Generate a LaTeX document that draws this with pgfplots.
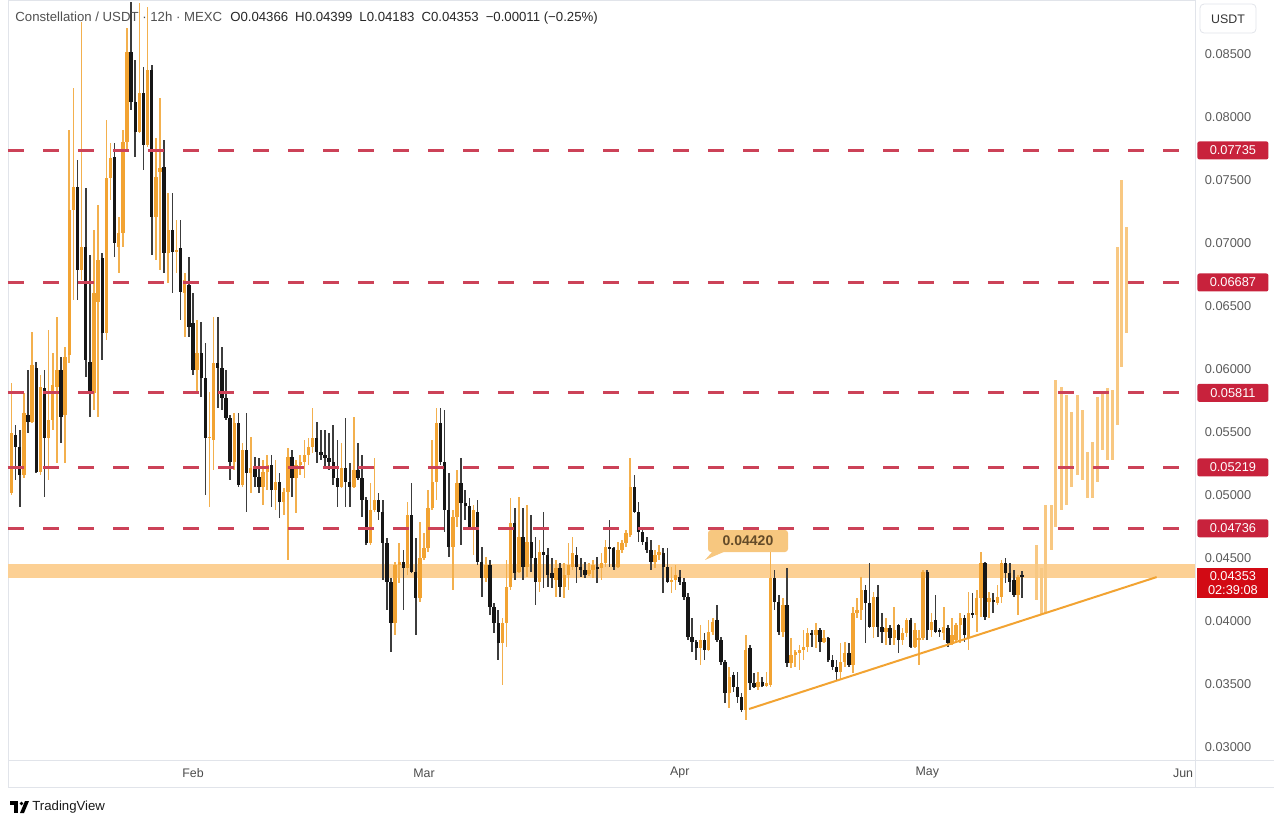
\documentclass[border=0pt]{standalone}
\usepackage{fontspec}
\setmainfont{Liberation Sans}
\usepackage{pgfplots}
\usepackage{pgfplotstable}
\pgfplotsset{compat=1.18}

\definecolor{upbody}{RGB}{242,163,50}
\definecolor{upwick}{RGB}{243,176,78}
\definecolor{dnbody}{RGB}{22,22,22}
\definecolor{dnwick}{RGB}{60,60,60}
\definecolor{lvl}{RGB}{204,66,88}
\definecolor{lvlbox}{RGB}{200,34,60}
\definecolor{nowbox}{RGB}{210,10,20}
\definecolor{band}{RGB}{252,208,148}
\definecolor{proj}{RGB}{248,200,130}
\definecolor{callout}{RGB}{247,199,127}
\definecolor{calltxt}{RGB}{100,75,40}
\definecolor{framegrey}{RGB}{225,228,234}
\definecolor{txtgrey}{RGB}{90,90,90}
\definecolor{hdrgrey}{RGB}{80,80,80}

% 12h candles: t = day of year, open high low close
\pgfplotstableread{
t o h l c
9.0 0.05016 0.05889 0.05000 0.05492
9.5 0.05476 0.05556 0.05119 0.05381
10.0 0.05381 0.05516 0.04905 0.05159
10.5 0.05159 0.05810 0.05135 0.05651
11.0 0.05635 0.05992 0.05492 0.05580
11.5 0.05580 0.06294 0.05572 0.06032
12.0 0.06008 0.06056 0.05175 0.05183
12.5 0.05183 0.05953 0.05159 0.05857
13.0 0.05849 0.05992 0.04984 0.05453
13.5 0.05453 0.06310 0.05119 0.05595
14.0 0.05595 0.06127 0.05516 0.05873
14.5 0.05857 0.06413 0.05254 0.05992
15.0 0.05992 0.06095 0.05413 0.05619
15.5 0.05635 0.06175 0.05254 0.06095
16.0 0.06111 0.07897 0.06048 0.07262
16.5 0.07262 0.08231 0.06548 0.07445
17.0 0.07445 0.07659 0.06548 0.06786
17.5 0.06786 0.08754 0.06707 0.06969
18.0 0.06969 0.07437 0.05937 0.06072
18.5 0.06056 0.06905 0.05619 0.05810
19.0 0.05810 0.07103 0.05675 0.06603
19.5 0.06532 0.07302 0.05619 0.06865
20.0 0.06881 0.06921 0.06072 0.06286
20.5 0.06286 0.07977 0.06230 0.07516
21.0 0.07516 0.07794 0.07341 0.07675
21.5 0.07683 0.07794 0.06889 0.07000
22.0 0.06969 0.07207 0.06762 0.07080
22.5 0.07080 0.07897 0.06969 0.07802
23.0 0.07802 0.08707 0.07738 0.08516
23.5 0.08516 0.08913 0.08056 0.08119
24.0 0.08119 0.08453 0.07683 0.07881
24.5 0.07881 0.08905 0.07870 0.08191
25.0 0.08191 0.08397 0.07580 0.07778
25.5 0.07778 0.08873 0.07762 0.08373
26.0 0.08373 0.08413 0.06905 0.07207
26.5 0.07207 0.07834 0.06865 0.07524
27.0 0.07564 0.08151 0.06786 0.07596
27.5 0.07604 0.07818 0.06762 0.06921
28.0 0.06921 0.07397 0.06683 0.07103
28.5 0.07103 0.07397 0.06603 0.06929
29.0 0.06929 0.07183 0.06762 0.06945
29.5 0.06961 0.07183 0.06389 0.06611
30.0 0.06603 0.06762 0.06254 0.06707
30.5 0.06667 0.06889 0.06254 0.06334
31.0 0.06365 0.06603 0.05953 0.05992
31.5 0.05992 0.06389 0.05810 0.06127
32.0 0.06127 0.06373 0.05778 0.05929
32.5 0.05929 0.06207 0.05000 0.05453
33.0 0.05453 0.05818 0.04905 0.05461
33.5 0.05437 0.06413 0.05199 0.06048
34.0 0.06048 0.06413 0.05691 0.06008
34.5 0.06008 0.06175 0.05675 0.05770
35.0 0.05770 0.05992 0.05595 0.05611
35.5 0.05611 0.05635 0.05119 0.05262
36.0 0.05262 0.05651 0.05199 0.05572
36.5 0.05572 0.05651 0.05064 0.05080
37.0 0.05080 0.05413 0.05064 0.05357
37.5 0.05357 0.05651 0.04865 0.05175
38.0 0.05175 0.05461 0.05016 0.05214
38.5 0.05214 0.05302 0.05064 0.05143
39.0 0.05143 0.05294 0.05016 0.05064
39.5 0.05064 0.05278 0.04921 0.05183
40.0 0.05183 0.05318 0.05040 0.05238
40.5 0.05238 0.05318 0.04905 0.05040
41.0 0.05040 0.05278 0.04881 0.05103
41.5 0.05103 0.05175 0.04818 0.04945
42.0 0.04945 0.05056 0.04841 0.05024
42.5 0.05024 0.05373 0.04484 0.05302
43.0 0.05302 0.05357 0.04984 0.05135
43.5 0.05135 0.05278 0.04857 0.05238
44.0 0.05238 0.05318 0.05159 0.05262
44.5 0.05262 0.05437 0.05135 0.05318
45.0 0.05318 0.05453 0.05238 0.05381
45.5 0.05381 0.05691 0.05333 0.05453
46.0 0.05453 0.05580 0.05254 0.05341
46.5 0.05341 0.05516 0.05278 0.05318
47.0 0.05318 0.05516 0.05222 0.05294
47.5 0.05294 0.05492 0.05199 0.05262
48.0 0.05262 0.05556 0.05080 0.05135
48.5 0.05135 0.05437 0.04905 0.05064
49.0 0.05064 0.05413 0.05056 0.05214
49.5 0.05214 0.05611 0.04905 0.05103
50.0 0.05103 0.05254 0.04905 0.05064
50.5 0.05064 0.05619 0.05056 0.05199
51.0 0.05199 0.05413 0.05119 0.05135
51.5 0.05135 0.05318 0.04826 0.04960
52.0 0.04960 0.04984 0.04603 0.04619
52.5 0.04619 0.05095 0.04603 0.04881
53.0 0.04881 0.05294 0.04865 0.04960
53.5 0.04960 0.05016 0.04802 0.04865
54.0 0.04865 0.04960 0.04325 0.04619
54.5 0.04619 0.04659 0.04087 0.04310
55.0 0.04310 0.04341 0.03754 0.03984
55.5 0.03984 0.04468 0.03889 0.04445
56.0 0.04445 0.04619 0.04302 0.04468
56.5 0.04468 0.04564 0.04087 0.04421
57.0 0.04421 0.04945 0.04365 0.04841
57.5 0.04841 0.05095 0.04381 0.04389
58.0 0.04389 0.04659 0.03889 0.04183
58.5 0.04183 0.04786 0.04151 0.04500
59.0 0.04500 0.04699 0.04484 0.04579
59.5 0.04579 0.05040 0.04548 0.04897
60.0 0.04897 0.05437 0.04881 0.05103
60.5 0.05103 0.05691 0.04960 0.05572
61.0 0.05572 0.05691 0.05238 0.05262
61.5 0.05262 0.05675 0.04707 0.04881
62.0 0.04881 0.05175 0.04508 0.04587
62.5 0.04587 0.04881 0.04246 0.04826
63.0 0.04826 0.05199 0.04746 0.05095
63.5 0.05095 0.05294 0.04603 0.04937
64.0 0.04937 0.05040 0.04802 0.04913
64.5 0.04913 0.04976 0.04722 0.04738
65.0 0.04738 0.04921 0.04524 0.04881
65.5 0.04865 0.04960 0.04445 0.04468
66.0 0.04468 0.04587 0.04191 0.04341
66.5 0.04341 0.04508 0.04310 0.04445
67.0 0.04445 0.04484 0.04048 0.04111
67.5 0.04111 0.04143 0.03905 0.03984
68.0 0.03984 0.04087 0.03691 0.03825
68.5 0.03825 0.04024 0.03492 0.03984
69.0 0.03984 0.04484 0.03794 0.04270
69.5 0.04270 0.04976 0.04246 0.04778
70.0 0.04778 0.04897 0.04325 0.04381
70.5 0.04389 0.04984 0.04381 0.04667
71.0 0.04667 0.04897 0.04325 0.04429
71.5 0.04429 0.04921 0.04349 0.04627
72.0 0.04627 0.04841 0.04389 0.04500
72.5 0.04500 0.04667 0.04127 0.04310
73.0 0.04310 0.04643 0.04230 0.04548
73.5 0.04548 0.04865 0.04262 0.04524
74.0 0.04524 0.04579 0.04270 0.04365
74.5 0.04381 0.04500 0.04262 0.04341
75.0 0.04325 0.04484 0.04191 0.04421
75.5 0.04421 0.04460 0.04191 0.04270
76.0 0.04270 0.04460 0.04183 0.04365
76.5 0.04365 0.04619 0.04246 0.04445
77.0 0.04429 0.04667 0.04405 0.04540
77.5 0.04524 0.04587 0.04302 0.04429
78.0 0.04429 0.04500 0.04349 0.04405
78.5 0.04405 0.04468 0.04341 0.04365
79.0 0.04373 0.04460 0.04357 0.04405
79.5 0.04405 0.04484 0.04341 0.04445
80.0 0.04429 0.04508 0.04302 0.04413
80.5 0.04421 0.04540 0.04325 0.04460
81.0 0.04460 0.04643 0.04429 0.04587
81.5 0.04587 0.04802 0.04429 0.04579
82.0 0.04579 0.04587 0.04405 0.04429
82.5 0.04429 0.04627 0.04421 0.04564
83.0 0.04564 0.04643 0.04540 0.04619
83.5 0.04619 0.04722 0.04587 0.04699
84.0 0.04683 0.05294 0.04667 0.05064
84.5 0.05064 0.05159 0.04857 0.04865
85.0 0.04865 0.04945 0.04627 0.04707
85.5 0.04707 0.04738 0.04603 0.04627
86.0 0.04627 0.04667 0.04540 0.04564
86.5 0.04564 0.04643 0.04405 0.04468
87.0 0.04468 0.04564 0.04421 0.04524
87.5 0.04524 0.04603 0.04484 0.04548
88.0 0.04540 0.04579 0.04222 0.04429
88.5 0.04429 0.04579 0.04302 0.04310
89.0 0.04310 0.04429 0.04222 0.04325
89.5 0.04325 0.04445 0.04246 0.04365
90.0 0.04349 0.04405 0.04286 0.04310
90.5 0.04310 0.04341 0.04167 0.04191
91.0 0.04191 0.04222 0.03849 0.03873
91.5 0.03873 0.04024 0.03754 0.03833
92.0 0.03833 0.03849 0.03691 0.03786
92.5 0.03786 0.03968 0.03651 0.03849
93.0 0.03849 0.03905 0.03691 0.03770
93.5 0.03770 0.04008 0.03762 0.03913
94.0 0.03913 0.04024 0.03889 0.03992
94.5 0.04008 0.04127 0.03833 0.03849
95.0 0.03849 0.03873 0.03651 0.03675
95.5 0.03675 0.03691 0.03349 0.03429
96.0 0.03429 0.03635 0.03310 0.03556
96.5 0.03572 0.03595 0.03437 0.03476
97.0 0.03476 0.03595 0.03349 0.03397
97.5 0.03397 0.03429 0.03278 0.03293
98.0 0.03293 0.03889 0.03214 0.03770
98.5 0.03786 0.03810 0.03453 0.03508
99.0 0.03508 0.03587 0.03468 0.03476
99.5 0.03476 0.03595 0.03453 0.03516
100.0 0.03516 0.03556 0.03476 0.03484
100.5 0.03484 0.03595 0.03476 0.03508
101.0 0.03492 0.04564 0.03476 0.04341
101.5 0.04341 0.04405 0.04087 0.04151
102.0 0.04151 0.04207 0.03889 0.03913
102.5 0.03913 0.04183 0.03873 0.04127
103.0 0.04127 0.04421 0.03635 0.03667
103.5 0.03667 0.03865 0.03627 0.03730
104.0 0.03730 0.03770 0.03635 0.03754
104.5 0.03750 0.03810 0.03611 0.03770
105.0 0.03770 0.03929 0.03691 0.03794
105.5 0.03794 0.03945 0.03754 0.03905
106.0 0.03905 0.03929 0.03794 0.03889
106.5 0.03889 0.03984 0.03786 0.03929
107.0 0.03929 0.03945 0.03754 0.03833
107.5 0.03833 0.03929 0.03825 0.03865
108.0 0.03865 0.03870 0.03675 0.03691
108.5 0.03691 0.03730 0.03611 0.03635
109.0 0.03635 0.03691 0.03532 0.03595
109.5 0.03595 0.03825 0.03532 0.03675
110.0 0.03675 0.03833 0.03635 0.03746
110.5 0.03746 0.03825 0.03635 0.03651
111.0 0.03651 0.04111 0.03587 0.04064
111.5 0.04064 0.04183 0.04024 0.04087
112.0 0.04087 0.04349 0.04008 0.04246
112.5 0.04246 0.04286 0.03825 0.04143
113.0 0.04143 0.04460 0.03945 0.03953
113.5 0.03953 0.04230 0.03865 0.04191
114.0 0.04191 0.04286 0.03873 0.03953
114.5 0.03953 0.04064 0.03825 0.03913
115.0 0.03913 0.04024 0.03810 0.03945
115.5 0.03945 0.03968 0.03810 0.03865
116.0 0.03865 0.04111 0.03810 0.03929
116.5 0.03968 0.03980 0.03746 0.03849
117.0 0.03849 0.03945 0.03810 0.03905
117.5 0.03905 0.04024 0.03873 0.04008
118.0 0.04008 0.04024 0.03786 0.03794
118.5 0.03794 0.03984 0.03786 0.03929
119.0 0.03849 0.03929 0.03651 0.03865
119.5 0.03865 0.04405 0.03849 0.04389
120.0 0.04389 0.04405 0.03849 0.03929
120.5 0.03929 0.04064 0.03873 0.03992
121.0 0.04008 0.04207 0.03905 0.03913
121.5 0.03929 0.03945 0.03873 0.03913
122.0 0.03905 0.04111 0.03849 0.03953
122.5 0.03945 0.03968 0.03794 0.03825
123.0 0.03825 0.04024 0.03810 0.03889
123.5 0.03849 0.03984 0.03833 0.03968
124.0 0.03968 0.04064 0.03825 0.04024
124.5 0.04024 0.04048 0.03833 0.03889
125.0 0.03865 0.04230 0.03770 0.04064
125.5 0.04064 0.04222 0.04024 0.04048
126.0 0.04048 0.04246 0.03913 0.04183
126.5 0.04183 0.04548 0.04032 0.04460
127.0 0.04460 0.04468 0.04008 0.04032
127.5 0.04151 0.04230 0.04024 0.04183
128.0 0.04167 0.04222 0.04064 0.04151
128.5 0.04143 0.04286 0.04127 0.04191
129.0 0.04191 0.04484 0.04143 0.04460
129.5 0.04460 0.04500 0.04302 0.04381
130.0 0.04381 0.04460 0.04230 0.04310
130.5 0.04325 0.04405 0.04191 0.04207
131.0 0.04207 0.04365 0.04048 0.04349
131.5 0.04366 0.04399 0.04183 0.04353
}\candles

% projected path (high/low ranges)
\pgfplotstableread{
t h l
133.2 0.04603 0.04167
133.8 0.04421 0.04048
134.3 0.04921 0.04064
135.0 0.04921 0.04564
135.6 0.05913 0.04746
136.3 0.05857 0.04881
136.9 0.05794 0.04921
137.5 0.05659 0.05064
138.2 0.05794 0.05159
138.8 0.05675 0.05119
139.4 0.05341 0.04976
140.0 0.05421 0.04976
140.6 0.05778 0.05103
141.2 0.05818 0.05357
141.8 0.05849 0.05278
142.4 0.05834 0.05278
143.0 0.06969 0.05556
143.6 0.07500 0.06016
144.2 0.07127 0.06286
}\proj

\begin{document}
\begin{tikzpicture}
\useasboundingbox (0,0) rectangle (637pt,-409.5pt);
\begin{axis}[
  at={(4pt,0pt)}, anchor=north west,
  scale only axis, width=593.5pt, height=380pt,
  xmin=8.576, xmax=152.45, ymin=0.02897, ymax=0.08929,
  clip=false,
  axis line style={draw=framegrey},
  major tick length=0pt,
  scaled y ticks=false,
  ytick={0.03,0.035,0.04,0.045,0.05,0.055,0.06,0.065,0.07,0.075,0.08,0.085},
  yticklabel pos=right,
  yticklabel style={anchor=center, xshift=16.5pt, text=txtgrey,
    font=\fontsize{6.4}{7}\selectfont,
    /pgf/number format/.cd, fixed, fixed zerofill, precision=5, assume math mode=true},
  xtick={31,59,90,120,151},
  xticklabels={Feb,Mar,Apr,May,Jun},
  xticklabel style={anchor=center, yshift=-6.5pt, text=black!70,
    font=\fontsize{6.2}{7}\selectfont},
  candle/.style={draw=none, mark=none, forget plot,
    error bars/y dir=both, error bars/y explicit, error bars/error mark=none},
]
% support band
\addplot[draw=none, fill=band, forget plot] coordinates
  {(8.576,0.04341) (152.45,0.04341) (152.45,0.04452) (8.576,0.04452)} -- cycle;

% up candles
\addplot[candle, restrict expr to domain={(\thisrow{c}-\thisrow{o})*100000}{0:100000},
  error bars/error bar style={draw=upwick, line width=0.8pt}]
  table[x=t, y expr={(\thisrow{h}+\thisrow{l})/2}, y error expr={(\thisrow{h}-\thisrow{l})/2}] {\candles};
\addplot[candle, restrict expr to domain={(\thisrow{c}-\thisrow{o})*100000}{0:100000},
  error bars/error bar style={draw=upbody, line width=1.7pt}]
  table[x=t, y expr={(\thisrow{o}+\thisrow{c})/2}, y error expr={max(abs(\thisrow{c}-\thisrow{o})/2,0.00004)}] {\candles};

% down candles
\addplot[candle, restrict expr to domain={(\thisrow{c}-\thisrow{o})*100000}{-100000:-0.5},
  error bars/error bar style={draw=dnwick, line width=0.8pt}]
  table[x=t, y expr={(\thisrow{h}+\thisrow{l})/2}, y error expr={(\thisrow{h}-\thisrow{l})/2}] {\candles};
\addplot[candle, restrict expr to domain={(\thisrow{c}-\thisrow{o})*100000}{-100000:-0.5},
  error bars/error bar style={draw=dnbody, line width=1.7pt}]
  table[x=t, y expr={(\thisrow{o}+\thisrow{c})/2}, y error expr={max(abs(\thisrow{c}-\thisrow{o})/2,0.00004)}] {\candles};

% projected path
\addplot[candle, error bars/error bar style={draw=proj, line width=1.5pt}]
  table[x=t, y expr={(\thisrow{h}+\thisrow{l})/2}, y error expr={(\thisrow{h}-\thisrow{l})/2}] {\proj};

% resistance levels
\addplot[lvl, line width=1.5pt, dash pattern=on 8pt off 9.5pt, forget plot] coordinates {(8.576,0.07735) (152.45,0.07735)};
\addplot[lvl, line width=1.5pt, dash pattern=on 8pt off 9.5pt, forget plot] coordinates {(8.576,0.06687) (152.45,0.06687)};
\addplot[lvl, line width=1.5pt, dash pattern=on 8pt off 9.5pt, forget plot] coordinates {(8.576,0.05811) (152.45,0.05811)};
\addplot[lvl, line width=1.5pt, dash pattern=on 8pt off 9.5pt, forget plot] coordinates {(8.576,0.05219) (152.45,0.05219)};
\addplot[lvl, line width=1.5pt, dash pattern=on 8pt off 9.5pt, forget plot] coordinates {(8.576,0.04736) (152.45,0.04736)};

% rising support line
\addplot[upbody, line width=1pt, forget plot] coordinates {(98.4,0.03302) (147.8,0.04349)};

% price labels on the right scale
\tikzset{lvllab/.style={fill=lvlbox, text=white, font=\fontsize{6.4}{7}\selectfont,
  minimum width=35.5pt, minimum height=9pt, inner sep=0pt, rounded corners=1pt, anchor=west}}
\node[lvllab] at ([xshift=1pt]axis cs:152.45,0.07735) {0.07735};
\node[lvllab] at ([xshift=1pt]axis cs:152.45,0.06687) {0.06687};
\node[lvllab] at ([xshift=1pt]axis cs:152.45,0.05811) {0.05811};
\node[lvllab] at ([xshift=1pt]axis cs:152.45,0.05219) {0.05219};
\node[lvllab] at ([xshift=1pt]axis cs:152.45,0.04736) {0.04736};
\node[fill=nowbox, text=white, font=\fontsize{6.4}{7}\selectfont, align=center,
  minimum width=35.5pt, minimum height=15pt, inner sep=0.5pt, anchor=north west]
  at ([xshift=1pt, yshift=4.25pt]axis cs:152.45,0.04353) {0.04353\\02:39:08};
\end{axis}

\begin{scope}[x=0.5pt, y=-0.5pt]
% panel frame
\draw[framegrey, line width=0.5pt] (1195,760) -- (1195,787);
\draw[framegrey, line width=0.5pt] (8,760) -- (8,787);
\draw[framegrey, line width=0.5pt] (8,787) -- (1274,787);
\draw[framegrey, line width=0.5pt] (1195,760) -- (1274,760);
% header
\node[anchor=west, font=\fontsize{6.6}{7}\selectfont, inner sep=0pt] at (15,18)
  {\textcolor{hdrgrey}{Constellation / USDT · 12h · MEXC}\hspace{4pt}%
   \textcolor{black!85}{O0.04366\hspace{3.5pt}H0.04399\hspace{3.5pt}L0.04183\hspace{3.5pt}C0.04353\hspace{3.5pt}−0.00011 (−0.25\%)}};
% currency box
\draw[framegrey, fill=white, rounded corners=2pt] (1200,4) rectangle (1256,33);
\node[font=\fontsize{6.2}{7}\selectfont, text=black!80] at (1228,19) {USDT};
% callout for the support level
\fill[callout] (713,551) -- (705,560) -- (726,551) -- cycle;
\node[fill=callout, rounded corners=1.5pt, minimum width=40pt, minimum height=11pt,
  inner sep=0pt, font=\bfseries\fontsize{7}{8}\selectfont, text=calltxt] at (748,541) {0.04420};
% TradingView mark
\fill[black] (10,801) rectangle (18,805);
\fill[black] (14,805) rectangle (18,813);
\fill[black] (21.5,803.5) circle (1.8);
\fill[black] (25,801) -- (29,801) -- (24,813) -- (20,813) -- cycle;
\node[anchor=west, font=\fontsize{6.6}{8}\selectfont, inner sep=0pt, text=black!90] at (32,807) {TradingView};
\end{scope}
\end{tikzpicture}
\end{document}
